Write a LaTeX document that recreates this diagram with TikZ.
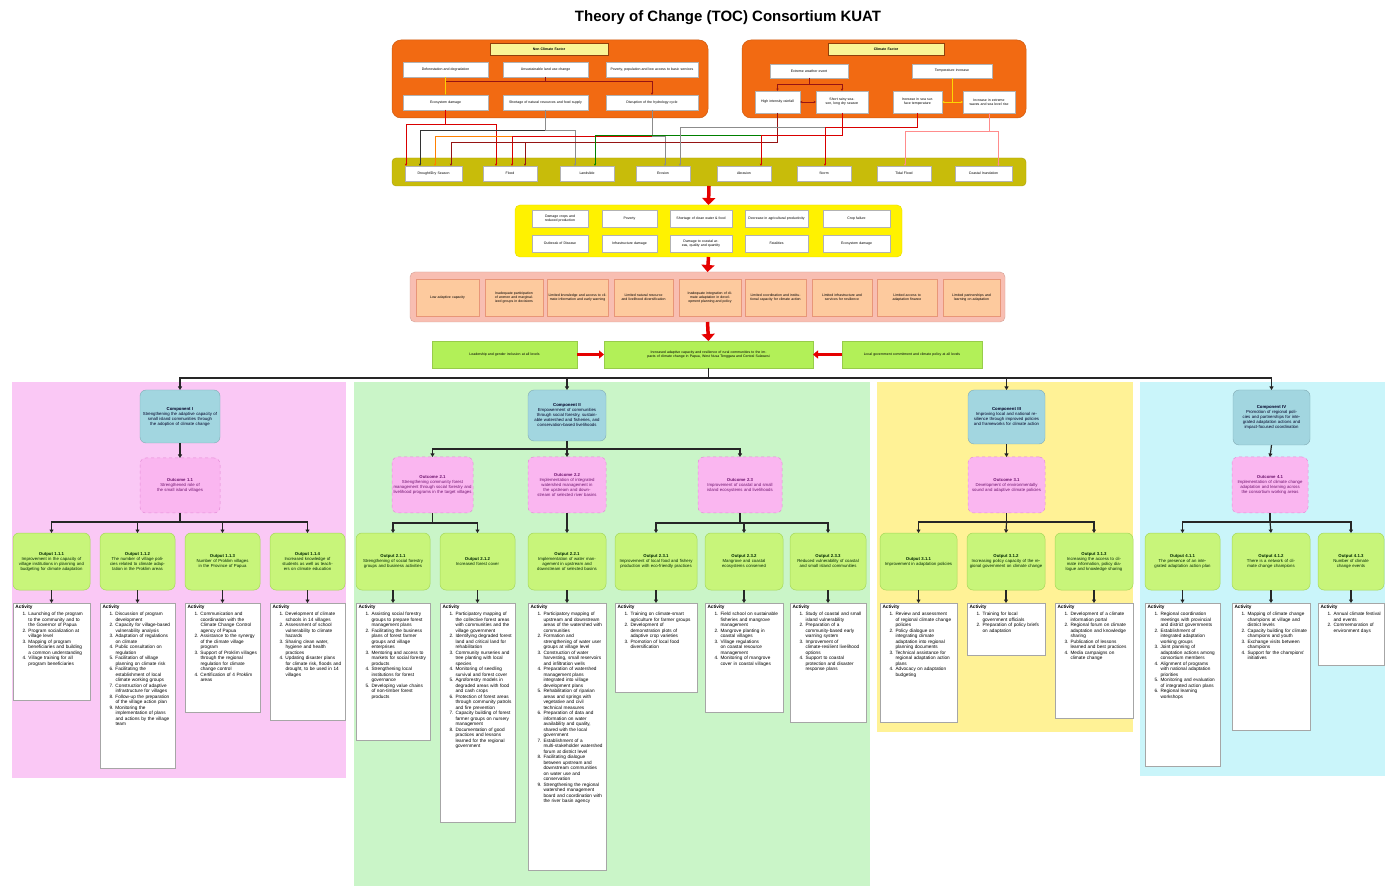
\documentclass[tikz,border=0pt]{standalone}
\usepackage{fontspec}
\setmainfont{Liberation Sans}
\usetikzlibrary{arrows.meta}

\definecolor{orng}{RGB}{242,106,18}
\definecolor{lblyel}{RGB}{250,245,150}
\definecolor{olivebar}{RGB}{200,188,10}
\definecolor{brightyel}{RGB}{255,242,0}
\definecolor{salmonout}{RGB}{248,190,178}
\definecolor{peach}{RGB}{253,202,158}
\definecolor{peachline}{RGB}{232,150,120}
\definecolor{goalgreen}{RGB}{178,240,88}
\definecolor{pinkbg}{RGB}{250,200,245}
\definecolor{greenbg}{RGB}{202,245,200}
\definecolor{yellowbg}{RGB}{255,242,150}
\definecolor{cyanbg}{RGB}{202,245,250}
\definecolor{compblue}{RGB}{162,214,224}
\definecolor{outcpink}{RGB}{250,182,240}
\definecolor{outcline}{RGB}{228,140,215}
\definecolor{outcfont}{RGB}{110,20,110}
\definecolor{outpgreen}{RGB}{200,245,122}
\definecolor{outpline}{RGB}{165,215,90}
\definecolor{darkred}{RGB}{150,20,20}

\newcommand\tkfont{\fontsize{4.3}{5.0}\selectfont}
\newcommand\tkactfont{\fontsize{4.7}{5.5}\selectfont\hyphenpenalty=10000\exhyphenpenalty=10000}
\newcommand\tksmall{\fontsize{3.5}{4.1}\selectfont}

\newcommand\tkbox[7]{%
  \pgfmathsetmacro\tkw{#5-#3}%
  \pgfmathsetmacro\tkh{#6-#4}%
  \pgfmathsetmacro\tktw{max(#5-#3-3,1)}%
  \pgfmathsetmacro\tkcx{(#3+#5)/2}%
  \pgfmathsetmacro\tkcy{(#4+#6)/2}%
  \node[#1,minimum width=\tkw pt,minimum height=\tkh pt,text width=\tktw pt] (#2) at (\tkcx,\tkcy) {#7};}

\newcommand\tkact[6]{%
  \pgfmathsetmacro\tkw{#4-#2}%
  \pgfmathsetmacro\tkh{#5-#3}%
  \pgfmathsetmacro\tktw{#4-#2-5}%
  \node[actbox,minimum width=\tkw pt,minimum height=\tkh pt,anchor=north west] (#1) at (#2,#3) {};
  \node[acttext,text width=\tktw pt,anchor=north west] (#1t) at ([shift={(1.5,1.5)}]#1.north west) {{\bfseries Activity}\par\vspace{1.5pt}#6};}

\newcommand\tkitem[2]{\noindent\hangindent=13pt\hangafter=1\hbox to 13pt{\hfil#1.\kern2pt}#2\par}

\tikzset{
  plain/.style={inner sep=1.5pt,outer sep=0pt,align=center},
  container/.style={plain,fill=orng,draw=orng!85!black,line width=0.5pt,rounded corners=9pt},
  lbl/.style={plain,fill=lblyel,draw=orng!60!black,line width=0.3pt,font=\tksmall\bfseries},
  wbox/.style={plain,fill=white,draw=black!30,line width=0.3pt,font=\tksmall},
  olivebox/.style={plain,fill=olivebar,draw=olivebar!85!black,rounded corners=4pt},
  yelbox/.style={plain,fill=brightyel,draw=brightyel!90!black,rounded corners=5pt},
  salbox/.style={plain,fill=salmonout,draw=salmonout!85!black,rounded corners=5pt},
  peachbox/.style={plain,fill=peach,draw=peachline,line width=0.4pt,font=\tksmall},
  goalbox/.style={plain,fill=goalgreen,draw=goalgreen!85!black,line width=0.4pt,font=\tksmall},
  bg/.style={plain,draw=none},
  compbox/.style={plain,fill=compblue,draw=compblue!80!black,line width=0.4pt,rounded corners=6pt,font=\tkfont,text=black!85!blue},
  outcbox/.style={plain,fill=outcpink,draw=outcline,line width=0.5pt,dashed,rounded corners=6pt,font=\tkfont,text=outcfont},
  outpbox/.style={plain,fill=outpgreen,draw=outpline,line width=0.5pt,rounded corners=6pt,font=\tkfont,text=black!85!green},
  actbox/.style={inner sep=0pt,outer sep=0pt,fill=white,draw=black!35,line width=0.4pt},
  acttext/.style={inner sep=1pt,outer sep=0pt,align=left,font=\tkactfont},
  cl/.style={line width=0.6pt,-{Stealth[length=2.5pt,width=2.2pt]}},
  bigarrow/.style={draw=red!90!black,line width=3.5pt,-{Triangle[length=7pt,width=13pt]}},
  sidearrow/.style={draw=red!90!black,line width=2.6pt,-{Triangle[length=5pt,width=8pt]}},
  tr/.style={draw=black!85,line width=1.2pt},
  ta/.style={tr,-{Triangle[length=3.5pt,width=4pt]}},
}

\begin{document}
\begin{tikzpicture}[x=1pt,y=-1pt]
\useasboundingbox (0,0) rectangle (1385,890);
\fill[white] (0,0) rectangle (1385,890);

\node[font=\fontsize{15}{18}\selectfont\bfseries] (title) at (728,18) {Theory of Change (TOC) Consortium KUAT};

% ---------- Non climate factors ----------
\tkbox{container}{ncf}{392}{40}{708}{118}{}
\tkbox{lbl}{nclbl}{490}{43}{608}{55}{Non Climate Factor}
\tkbox{wbox}{nc1}{403}{62}{488}{77}{Deforestation and degradation}
\tkbox{wbox}{nc2}{503}{62}{588}{77}{Unsustainable land use change}
\tkbox{wbox}{nc3}{606}{62}{698}{77}{Poverty, population and low access to basic services}
\tkbox{wbox}{nc4}{403}{95}{488}{110}{Ecosystem damage}
\tkbox{wbox}{nc5}{503}{95}{588}{110}{Shortage of natural resources and food supply}
\tkbox{wbox}{nc6}{606}{95}{698}{110}{Disruption of the hydrology cycle}

% ---------- Climate factors ----------
\tkbox{container}{cff}{742}{40}{1026}{118}{}
\tkbox{lbl}{cflbl}{828}{43}{944}{55}{Climate Factor}
\tkbox{wbox}{cf1}{770}{64}{848}{78}{Extreme weather event}
\tkbox{wbox}{cf2}{912}{64}{992}{78}{Temperature increase}
\tkbox{wbox}{cf3}{755}{91}{800}{113}{High intensity rainfall}
\tkbox{wbox}{cf4}{816}{91}{868}{113}{Short rainy season, long dry season}
\tkbox{wbox}{cf5}{893}{91}{942}{113}{Increase in sea surface temperature}
\tkbox{wbox}{cf6}{963}{91}{1015}{113}{Increase in extreme waves and sea level rise}

% internal links
\draw[cl,darkred] (nc2.south) -- ++(0,4) -| (nc4.north);
\draw[cl,darkred] (nc2.south) -- ++(0,4) -| (nc6.north);
\draw[cl,yellow!70!orange] (nc1.south) -- (nc4.north);
\draw[cl,darkred] (cf1.south) -- ++(0,6) -| (cf3.north);
\draw[cl,darkred] (cf1.south) -- ++(0,6) -| (cf4.north);
\draw[cl,darkred,{Stealth[length=2.5pt,width=2.2pt]}-{Stealth[length=2.5pt,width=2.2pt]}] (cf3.east) -- (cf4.west);
\draw[cl,yellow!75!orange] (cf2.south) |- (cf5.east);
\draw[cl,yellow!75!orange] (cf2.south) |- (cf6.west);

% ---------- Hazards ----------
\tkbox{olivebox}{hz}{392}{158}{1026}{186}{}
\tkbox{wbox}{d1}{405}{166}{462}{181}{Drought/Dry Season}
\tkbox{wbox}{d2}{483}{166}{537}{181}{Flood}
\tkbox{wbox}{d3}{560}{166}{614}{181}{Landslide}
\tkbox{wbox}{d4}{636}{166}{690}{181}{Erosion}
\tkbox{wbox}{d5}{717}{166}{771}{181}{Abrasion}
\tkbox{wbox}{d6}{797}{166}{851}{181}{Storm}
\tkbox{wbox}{d7}{877}{166}{931}{181}{Tidal Flood}
\tkbox{wbox}{d8}{955}{166}{1012}{181}{Coastal Inundation}

% factor -> hazard links
\draw[cl,red!85!black] (nc4.south) -- ++(0,14) -| ([xshift=-27.5pt]d1.north);
\draw[cl,red!85!black] (nc4.south) -- ++(0,14) -| ([xshift=-14pt]d2.north);
\draw[cl,black!80] (nc5.south) -- ++(0,20) -| ([xshift=-13.5pt]d1.north);
\draw[cl,black!45] (nc5.south) -- ++(0,20) -| ([xshift=-12pt]d3.north);
\draw[cl,orange] (nc6.south) -- ++(0,26) -| ([xshift=1.5pt]d1.north);
\draw[cl,red!85!black] (nc6.south) -- ++(0,26) -| ([xshift=2pt]d2.north);
\draw[cl,black!45] (nc6.south) -- ++(0,26) -| ([xshift=2pt]d4.north);
\draw[cl,darkred] (cf3.south) -- ++(0,29) -| ([xshift=17.5pt]d1.north);
\draw[cl,darkred] (cf3.south) -- ++(0,29) -| ([xshift=15pt]d2.north);
\draw[cl,green!50!black] (cf4.south) -- ++(0,22) -| ([xshift=8pt]d3.north);
\draw[cl,red!85!black] (cf4.south) -- ++(0,22) -| ([xshift=17pt]d5.north);
\draw[cl,black!45] (cf5.south) -- ++(0,14) -| ([xshift=17pt]d4.north);
\draw[cl,red!85!black] (cf5.south) -- ++(0,14) -| ([xshift=1pt]d6.north);
\draw[cl,red!45] (cf6.south) -- ++(0,18) -| ([xshift=1pt]d7.north);
\draw[cl,red!45] (cf6.south) -- ++(0,18) -| ([xshift=15pt]d8.north);

% ---------- Impacts ----------
\tkbox{yelbox}{imp}{515}{205}{902}{257}{}
\tkbox{wbox}{i1}{532}{210}{588}{227}{Damage crops and reduced production}
\tkbox{wbox}{i2}{602}{210}{657}{227}{Poverty}
\tkbox{wbox}{i3}{670}{210}{732}{227}{Shortage of clean water \& food}
\tkbox{wbox}{i4}{745}{210}{808}{227}{Decrease in agricultural productivity}
\tkbox{wbox}{i5}{823}{210}{890}{227}{Crop failure}
\tkbox{wbox}{i6}{532}{235}{588}{252}{Outbreak of Disease}
\tkbox{wbox}{i7}{602}{235}{657}{252}{Infrastructure damage}
\tkbox{wbox}{i8}{670}{235}{732}{252}{Damage to coastal areas, quality and quantity}
\tkbox{wbox}{i9}{745}{235}{808}{252}{Fatalities}
\tkbox{wbox}{i10}{823}{235}{890}{252}{Ecosystem damage}

% ---------- Vulnerabilities ----------
\tkbox{salbox}{vul}{410}{272}{1005}{322}{}
\tkbox{peachbox}{v1}{416}{279}{479}{316}{Low adaptive capacity}
\tkbox{peachbox}{v2}{485}{279}{543}{316}{Inadequate participation of women and marginalized groups in decisions}
\tkbox{peachbox}{v3}{547}{279}{608}{316}{Limited knowledge and access to climate information and early warning}
\tkbox{peachbox}{v4}{614}{279}{673}{316}{Limited natural resource and livelihood diversification}
\tkbox{peachbox}{v5}{679}{279}{741}{316}{Inadequate integration of climate adaptation in development planning and policy}
\tkbox{peachbox}{v6}{745}{279}{806}{316}{Limited coordination and institutional capacity for climate action}
\tkbox{peachbox}{v7}{812}{279}{872}{316}{Limited infrastructure and services for resilience}
\tkbox{peachbox}{v8}{877}{279}{937}{316}{Limited access to adaptation finance}
\tkbox{peachbox}{v9}{943}{279}{1000}{316}{Limited partnerships and learning on adaptation}

% ---------- Goal ----------
\tkbox{goalbox}{g1}{432}{341}{577}{368}{Leadership and gender inclusion at all levels}
\tkbox{goalbox}{goal}{604}{341}{813}{368}{Increased adaptive capacity and resilience of rural communities to the impacts of climate change in Papua, West Nusa Tenggara and Central Sulawesi}
\tkbox{goalbox}{g2}{842}{341}{982}{368}{Local government commitment and climate policy at all levels}

\draw[bigarrow] (hz.south) -- (imp.north);
\draw[bigarrow] (imp.south) -- (vul.north);
\draw[bigarrow] (vul.south) -- (goal.north);
\draw[sidearrow] (g1.east) -- (goal.west);
\draw[sidearrow] (g2.west) -- (goal.east);

% ---------- Backgrounds ----------
\tkbox{bg,fill=pinkbg}{bg1}{12}{382}{346}{778}{}
\tkbox{bg,fill=greenbg}{bg2}{354}{382}{870}{886}{}
\tkbox{bg,fill=yellowbg}{bg3}{877}{382}{1133}{732}{}
\tkbox{bg,fill=cyanbg}{bg4}{1140}{382}{1385}{776}{}

% ---------- Components ----------
\tkbox{compbox}{c1}{140}{390}{220}{443}{{\bfseries Component I}\\ Strengthening the adaptive capacity of small island communities through the adoption of climate change}
\tkbox{compbox}{c2}{528}{390}{606}{441}{{\bfseries Component II}\\ Empowerment of communities through social forestry, sustainable watershed and fisheries, and conservation-based livelihoods}
\tkbox{compbox}{c3}{968}{390}{1045}{444}{{\bfseries Component III}\\ Improving local and national resilience through improved policies and frameworks for climate action}
\tkbox{compbox}{c4}{1233}{390}{1310}{445}{{\bfseries Component IV}\\ Promotion of regional policies and partnerships for integrated adaptation actions and impact-focused coordination}

\draw[tr] (goal.south) -- ++(0,10) coordinate (j0);
\draw[ta] (j0) -| (c1.north);
\draw[ta] (j0) -| (c2.north);
\draw[ta] (j0) -| (c3.north);
\draw[ta] (j0) -| (c4.north);

% ---------- Outcomes ----------
\tkbox{outcbox}{o11}{140}{458}{220}{513}{{\bfseries Outcome 1.1}\\ Strengthened role of the small island villages}
\tkbox{outcbox}{o21}{392}{457}{473}{513}{{\bfseries Outcome 2.1}\\ Strengthening community forest management through social forestry and livelihood programs in the target villages}
\tkbox{outcbox}{o22}{528}{457}{606}{513}{{\bfseries Outcome 2.2}\\ Implementation of integrated watershed management in the upstream and downstream of selected river basins}
\tkbox{outcbox}{o23}{698}{457}{782}{513}{{\bfseries Outcome 2.3}\\ Improvement of coastal and small island ecosystems and livelihoods}
\tkbox{outcbox}{o31}{968}{457}{1045}{513}{{\bfseries Outcome 3.1}\\ Development of environmentally sound and adaptive climate policies}
\tkbox{outcbox}{o41}{1232}{457}{1308}{513}{{\bfseries Outcome 4.1}\\ Implementation of climate change adaptation and learning across the consortium working areas}

\draw[ta] (c1.south) -- (o11.north);
\draw[tr] (c2.south) -- ++(0,8) coordinate (j2);
\draw[ta] (j2) -| (o21.north);
\draw[ta] (j2) -- (o22.north);
\draw[ta] (j2) -| (o23.north);
\draw[ta] (c3.south) -- (o31.north);
\draw[ta] (c4.south) -- (o41.north);

% ---------- Outputs ----------
\tkbox{outpbox}{p111}{13}{533}{90}{590}{{\bfseries Output 1.1.1}\\ Improvement in the capacity of village institutions in planning and budgeting for climate adaptation}
\tkbox{outpbox}{p112}{100}{533}{175}{590}{{\bfseries Output 1.1.2}\\ The number of village policies related to climate adaptation in the Proklim areas}
\tkbox{outpbox}{p113}{185}{533}{260}{590}{{\bfseries Output 1.1.3}\\ Number of Proklim villages in the Province of Papua}
\tkbox{outpbox}{p114}{270}{533}{345}{590}{{\bfseries Output 1.1.4}\\ Increased knowledge of students as well as teachers on climate education}
\tkbox{outpbox}{p211}{356}{533}{430}{590}{{\bfseries Output 2.1.1}\\ Strengthening of social forestry groups and business activities}
\tkbox{outpbox}{p212}{440}{533}{515}{590}{{\bfseries Output 2.1.2}\\ Increased forest cover}
\tkbox{outpbox}{p221}{528}{533}{606}{590}{{\bfseries Output 2.2.1}\\ Implementation of water management in upstream and downstream of selected basins}
\tkbox{outpbox}{p231}{615}{533}{697}{590}{{\bfseries Output 2.3.1}\\ Improvement of local food and fishery production with eco-friendly practices}
\tkbox{outpbox}{p232}{705}{533}{783}{590}{{\bfseries Output 2.3.2}\\ Mangrove and coastal ecosystems conserved}
\tkbox{outpbox}{p233}{790}{533}{866}{590}{{\bfseries Output 2.3.3}\\ Reduced vulnerability of coastal and small island communities}
\tkbox{outpbox}{p311}{880}{533}{957}{590}{{\bfseries Output 3.1.1}\\ Improvement in adaptation policies}
\tkbox{outpbox}{p312}{967}{533}{1045}{590}{{\bfseries Output 3.1.2}\\ Increasing policy capacity of the regional government on climate change}
\tkbox{outpbox}{p313}{1055}{533}{1133}{590}{{\bfseries Output 3.1.3}\\ Increasing the access to climate information, policy dialogue and knowledge sharing}
\tkbox{outpbox}{p411}{1145}{533}{1220}{590}{{\bfseries Output 4.1.1}\\ The presence of an integrated adaptation action plan}
\tkbox{outpbox}{p412}{1232}{533}{1310}{590}{{\bfseries Output 4.1.2}\\ There is a network of climate change champions}
\tkbox{outpbox}{p413}{1318}{533}{1384}{590}{{\bfseries Output 4.1.3}\\ Number of climate change events}

\draw[tr] (o11.south) -- ++(0,9) coordinate (j11);
\draw[ta] (j11) -| (p111.north);
\draw[ta] (j11) -| (p112.north);
\draw[ta] (j11) -| (p113.north);
\draw[ta] (j11) -| (p114.north);
\draw[tr] (o21.south) -- ++(0,10) coordinate (j21);
\draw[ta] (j21) -| (p211.north);
\draw[ta] (j21) -| (p212.north);
\draw[ta] (o22.south) -- (p221.north);
\draw[tr] (o23.south) -- ++(0,10) coordinate (j23);
\draw[ta] (j23) -| (p231.north);
\draw[ta] (j23) -| (p232.north);
\draw[ta] (j23) -| (p233.north);
\draw[tr] (o31.south) -- ++(0,9) coordinate (j31);
\draw[ta] (j31) -| (p311.north);
\draw[ta] (j31) -- (p312.north);
\draw[ta] (j31) -| (p313.north);
\draw[tr] (o41.south) -- ++(0,9) coordinate (j41);
\draw[ta] (j41) -| (p411.north);
\draw[ta] (j41) -- (p412.north);
\draw[ta] (j41) -| (p413.north);

% ---------- Activities ----------
\tkact{a111}{13}{603}{90}{700}{%
\tkitem{1}{Launching of the program to the community and to the Governor of Papua}
\tkitem{2}{Program socialization at village level}
\tkitem{3}{Mapping of program beneficiaries and building a common understanding}
\tkitem{4}{Village training for all program beneficiaries}}
\tkact{a112}{100}{603}{175}{768}{%
\tkitem{1}{Discussion of program development}
\tkitem{2}{Capacity for village-based vulnerability analysis}
\tkitem{3}{Adaptation of regulations on climate}
\tkitem{4}{Public consultation on regulation}
\tkitem{5}{Facilitation of village planning on climate risk}
\tkitem{6}{Facilitating the establishment of local climate working groups}
\tkitem{7}{Construction of adaptive infrastructure for villages}
\tkitem{8}{Follow-up the preparation of the village action plan}
\tkitem{9}{Monitoring the implementation of plans and actions by the village team}}
\tkact{a113}{185}{603}{260}{712}{%
\tkitem{1}{Communication and coordination with the Climate Change Control agency of Papua}
\tkitem{2}{Assistance to the synergy of the climate village program}
\tkitem{3}{Support of Proklim villages through the regional regulation for climate change control}
\tkitem{4}{Certification of 4 Proklim areas}}
\tkact{a114}{270}{603}{345}{720}{%
\tkitem{1}{Development of climate schools in 14 villages}
\tkitem{2}{Assessment of school vulnerability to climate hazards}
\tkitem{3}{Sharing clean water, hygiene and health practices}
\tkitem{4}{Updating disaster plans for climate risk, floods and drought, to be used in 14 villages}}
\tkact{a211}{356}{603}{430}{740}{%
\tkitem{1}{Assisting social forestry groups to prepare forest management plans}
\tkitem{2}{Facilitating the business plans of forest farmer groups and village enterprises}
\tkitem{3}{Mentoring and access to markets for social forestry products}
\tkitem{4}{Strengthening local institutions for forest governance}
\tkitem{5}{Developing value chains of non-timber forest products}}
\tkact{a212}{440}{603}{515}{822}{%
\tkitem{1}{Participatory mapping of the collective forest areas with communities and the village government}
\tkitem{2}{Identifying degraded forest land and critical land for rehabilitation}
\tkitem{3}{Community nurseries and tree planting with local species}
\tkitem{4}{Monitoring of seedling survival and forest cover}
\tkitem{5}{Agroforestry models in degraded areas with food and cash crops}
\tkitem{6}{Protection of forest areas through community patrols and fire prevention}
\tkitem{7}{Capacity building of forest farmer groups on nursery management}
\tkitem{8}{Documentation of good practices and lessons learned for the regional government}}
\tkact{a221}{528}{603}{606}{870}{%
\tkitem{1}{Participatory mapping of upstream and downstream areas of the watershed with communities}
\tkitem{2}{Formation and strengthening of water user groups at village level}
\tkitem{3}{Construction of water harvesting, small reservoirs and infiltration wells}
\tkitem{4}{Preparation of watershed management plans integrated into village development plans}
\tkitem{5}{Rehabilitation of riparian areas and springs with vegetative and civil technical measures}
\tkitem{6}{Preparation of data and information on water availability and quality, shared with the local government}
\tkitem{7}{Establishment of a multi-stakeholder watershed forum at district level}
\tkitem{8}{Facilitating dialogue between upstream and downstream communities on water use and conservation}
\tkitem{9}{Strengthening the regional watershed management board and coordination with the river basin agency}}
\tkact{a231}{615}{603}{697}{692}{%
\tkitem{1}{Training on climate-smart agriculture for farmer groups}
\tkitem{2}{Development of demonstration plots of adaptive crop varieties}
\tkitem{3}{Promotion of local food diversification}}
\tkact{a232}{705}{603}{783}{712}{%
\tkitem{1}{Field school on sustainable fisheries and mangrove management}
\tkitem{2}{Mangrove planting in coastal villages}
\tkitem{3}{Village regulations on coastal resource management}
\tkitem{4}{Monitoring of mangrove cover in coastal villages}}
\tkact{a233}{790}{603}{866}{722}{%
\tkitem{1}{Study of coastal and small island vulnerability}
\tkitem{2}{Preparation of a community-based early warning system}
\tkitem{3}{Improvement of climate-resilient livelihood options}
\tkitem{4}{Support to coastal protection and disaster response plans}}
\tkact{a311}{880}{603}{957}{722}{%
\tkitem{1}{Review and assessment of regional climate change policies}
\tkitem{2}{Policy dialogue on integrating climate adaptation into regional planning documents}
\tkitem{3}{Technical assistance for regional adaptation action plans}
\tkitem{4}{Advocacy on adaptation budgeting}}
\tkact{a312}{967}{603}{1045}{655}{%
\tkitem{1}{Training for local government officials}
\tkitem{2}{Preparation of policy briefs on adaptation}}
\tkact{a313}{1055}{603}{1133}{718}{%
\tkitem{1}{Development of a climate information portal}
\tkitem{2}{Regional forum on climate adaptation and knowledge sharing}
\tkitem{3}{Publication of lessons learned and best practices}
\tkitem{4}{Media campaigns on climate change}}
\tkact{a411}{1145}{603}{1220}{766}{%
\tkitem{1}{Regional coordination meetings with provincial and district governments}
\tkitem{2}{Establishment of integrated adaptation working groups}
\tkitem{3}{Joint planning of adaptation actions among consortium members}
\tkitem{4}{Alignment of programs with national adaptation priorities}
\tkitem{5}{Monitoring and evaluation of integrated action plans}
\tkitem{6}{Regional learning workshops}}
\tkact{a412}{1232}{603}{1310}{730}{%
\tkitem{1}{Mapping of climate change champions at village and district levels}
\tkitem{2}{Capacity building for climate champions and youth}
\tkitem{3}{Exchange visits between champions}
\tkitem{4}{Support for the champions' initiatives}}
\tkact{a413}{1318}{603}{1384}{665}{%
\tkitem{1}{Annual climate festival and events}
\tkitem{2}{Commemoration of environment days}}

\foreach \p/\a in {p111/a111,p112/a112,p113/a113,p114/a114,p211/a211,p212/a212,p221/a221,p231/a231,p232/a232,p233/a233,p311/a311,p312/a312,p313/a313,p411/a411,p412/a412,p413/a413}
  \draw[ta] (\p.south) -- (\a.north);

\end{tikzpicture}
\end{document}
